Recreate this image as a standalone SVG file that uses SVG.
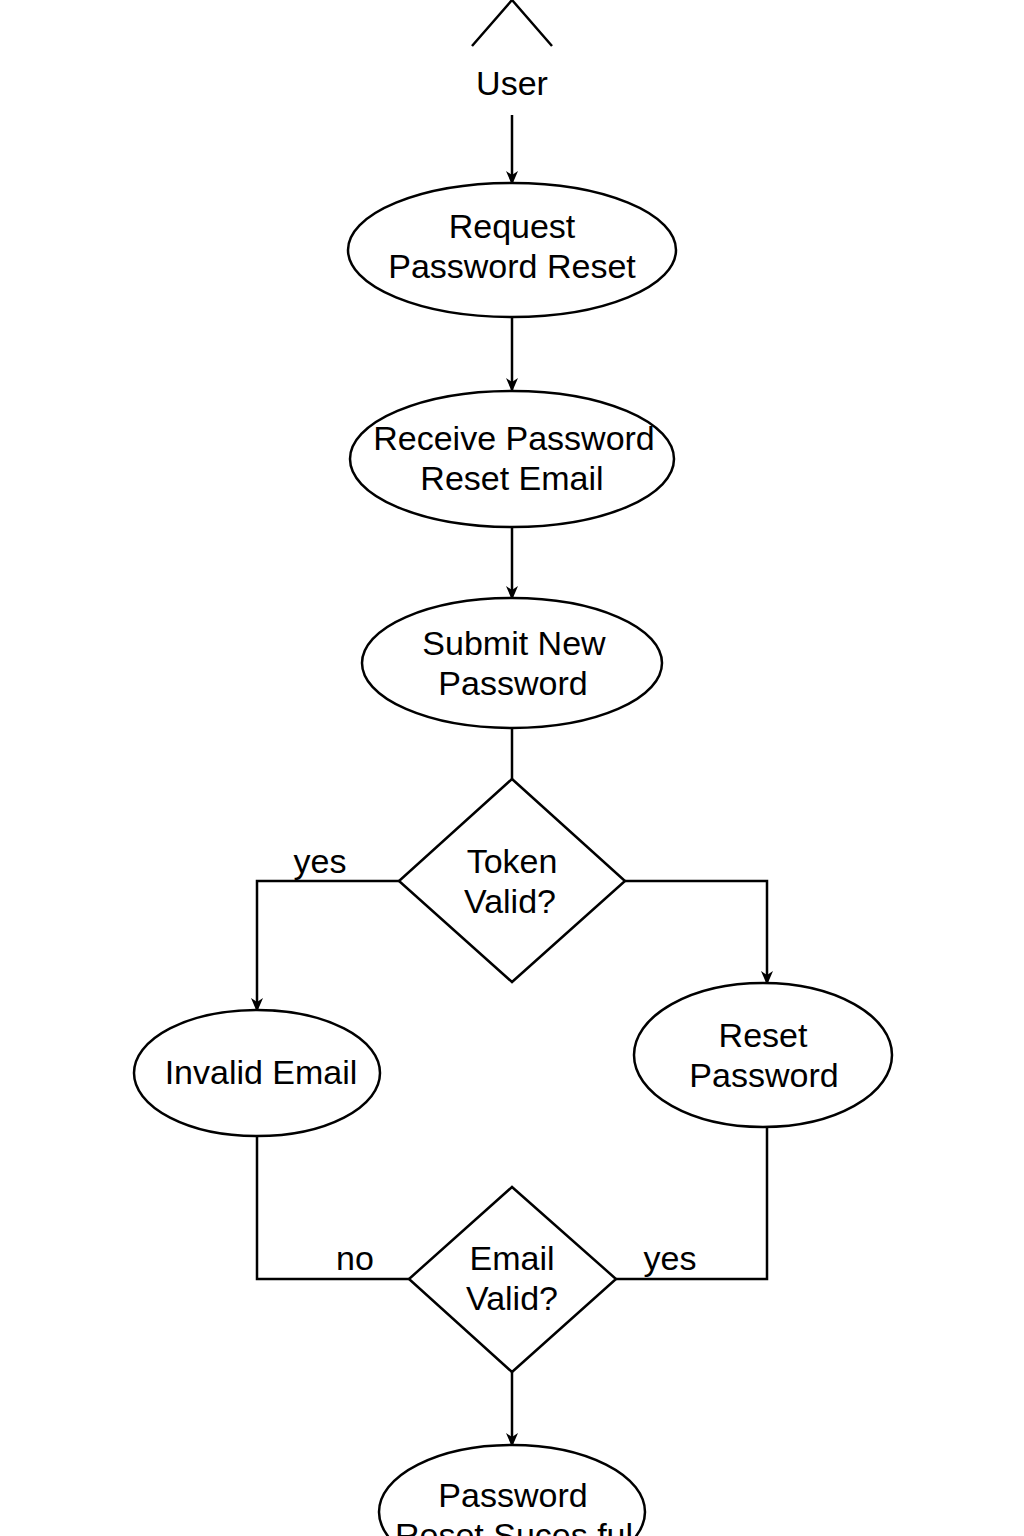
<svg xmlns="http://www.w3.org/2000/svg" width="1024" height="1536" viewBox="0 0 1024 1536">
<defs>
<style>
.s{fill:#fff;stroke:#000;stroke-width:2.5}
.l{fill:none;stroke:#000;stroke-width:2.5}
.t{font-family:"Liberation Sans",Arial,sans-serif;font-size:34px;fill:#000;text-anchor:middle}
</style>
<marker id="a" markerWidth="14" markerHeight="12" refX="13" refY="6" orient="auto" markerUnits="userSpaceOnUse" viewBox="0 0 14 12">
<path d="M0,0 L14,6 L0,12 L4,6 Z" fill="#000"/>
</marker>
</defs>
<rect width="1024" height="1536" fill="#fff"/>
<g id="connectors">
<line class="l" x1="512" y1="115" x2="512" y2="184" marker-end="url(#a)"/>
<line class="l" x1="512" y1="318" x2="512" y2="391" marker-end="url(#a)"/>
<line class="l" x1="512" y1="528" x2="512" y2="599" marker-end="url(#a)"/>
<line class="l" x1="512" y1="728" x2="512" y2="779"/>
<polyline class="l" points="399,881 257,881 257,1011" marker-end="url(#a)"/>
<polyline class="l" points="625,881 767,881 767,984" marker-end="url(#a)"/>
<polyline class="l" points="257,1136 257,1279 409,1279"/>
<polyline class="l" points="767,1126 767,1279 616,1279"/>
<line class="l" x1="512" y1="1372" x2="512" y2="1446" marker-end="url(#a)"/>
<text class="t" x="320" y="873">yes</text>
<text class="t" x="355" y="1270">no</text>
<text class="t" x="670" y="1270">yes</text>
</g>
<g id="user">
<polyline class="l" points="472,46 512,0 552,46"/>
<text class="t" x="512" y="95">User</text>
</g>
<g id="request">
<ellipse class="s" cx="512" cy="250" rx="164" ry="67"/>
<text class="t" x="512" y="238">Request</text>
<text class="t" x="512" y="278">Password Reset</text>
</g>
<g id="receive">
<ellipse class="s" cx="512" cy="459" rx="162" ry="68"/>
<text class="t" x="514" y="450">Receive Password</text>
<text class="t" x="512" y="490">Reset Email</text>
</g>
<g id="submit">
<ellipse class="s" cx="512" cy="663" rx="150" ry="65"/>
<text class="t" x="514" y="655">Submit New</text>
<text class="t" x="513" y="695">Password</text>
</g>
<g id="token">
<polygon class="s" points="512,779 625,881 512,982 399,881"/>
<text class="t" x="512" y="873">Token</text>
<text class="t" x="510" y="913">Valid?</text>
</g>
<g id="invalid">
<ellipse class="s" cx="257" cy="1073" rx="123" ry="63"/>
<text class="t" x="261" y="1084">Invalid Email</text>
</g>
<g id="reset">
<ellipse class="s" cx="763" cy="1055" rx="129" ry="72"/>
<text class="t" x="763" y="1047">Reset</text>
<text class="t" x="764" y="1087">Password</text>
</g>
<g id="email">
<polygon class="s" points="512,1187 616,1279 512,1372 409,1279"/>
<text class="t" x="512" y="1270">Email</text>
<text class="t" x="512" y="1310">Valid?</text>
</g>
<g id="success">
<ellipse class="s" cx="512" cy="1512" rx="133" ry="67"/>
<text class="t" x="513" y="1507">Password</text>
<text class="t" x="514" y="1547">Reset Suces ful</text>
</g>
</svg>
